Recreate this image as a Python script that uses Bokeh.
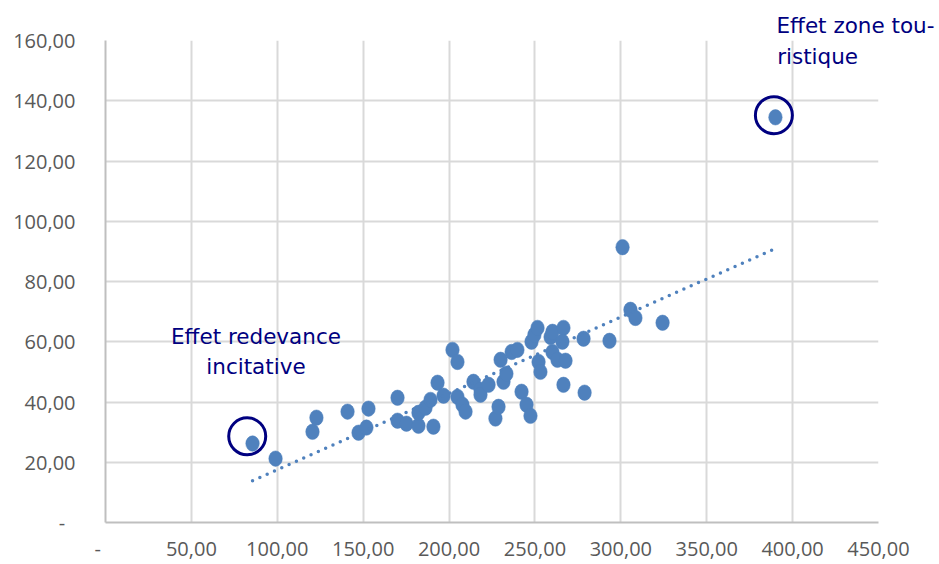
import numpy as np
from bokeh.plotting import figure
from bokeh.models import Range1d, FixedTicker, Label, Title
from bokeh.embed import file_html
from bokeh.resources import INLINE

# ---- data ----
x_values = [85.6, 99.0, 120.5, 122.8, 140.9, 147.3, 151.9, 153.1, 170.0, 170.0,
            175.2, 182.2, 182.2, 186.3, 189.2, 190.9, 193.3, 196.8, 202.0, 204.9,
            204.9, 207.8, 209.6, 214.2, 218.3, 218.3, 223.0, 227.0, 228.8, 230.0,
            231.7, 233.4, 236.4, 239.8, 242.2, 245.1, 247.4, 248.0, 249.7, 251.5,
            252.1, 253.2, 259.1, 260.2, 260.2, 263.1, 266.6, 266.0, 267.8, 266.6,
            278.3, 278.9, 293.4, 301.0, 305.6, 308.5, 324.3, 390.0]
y_values = [26.2, 21.2, 30.1, 34.8, 36.8, 29.8, 31.5, 37.8, 41.4, 33.8,
            32.8, 32.1, 36.4, 38.1, 40.7, 31.8, 46.4, 42.1, 57.3, 53.3,
            41.7, 39.1, 36.8, 46.7, 44.1, 42.4, 45.7, 34.5, 38.4, 54.0,
            46.7, 49.4, 56.6, 57.3, 43.4, 39.1, 35.4, 60.0, 62.3, 64.6,
            53.3, 50.0, 61.6, 63.3, 56.6, 54.0, 64.6, 60.0, 53.7, 45.7,
            61.0, 43.1, 60.3, 91.4, 70.6, 67.9, 66.3, 134.5]

x_ticks = [0, 50, 100, 150, 200, 250, 300, 350, 400, 450]
x_tick_labels = ["-\u00a0\u00a0\u00a0", "50,00", "100,00", "150,00", "200,00", "250,00",
                 "300,00", "350,00", "400,00", "450,00"]
y_ticks = [0, 20, 40, 60, 80, 100, 120, 140, 160]
y_tick_labels = ["-\u00a0\u00a0", "20,00", "40,00", "60,00", "80,00", "100,00",
                 "120,00", "140,00", "160,00"]

# highlighted points (annotation circles)
highlight_x = [82.5, 389.1]
highlight_y = [28.6, 135.2]

# linear trend (least squares, like the spreadsheet trendline)
slope, intercept = np.polyfit(np.array(x_values), np.array(y_values), 1)
trend_x = [min(x_values), max(x_values)]
trend_y = [slope * v + intercept for v in trend_x]

TICK_FONT = "Open Sans"
NOTE_FONT = "DejaVu Sans"
POINT_COLOR = "#4F81BD"
NAVY = "#000080"

p = figure(width=939, height=564, output_backend="svg", toolbar_location=None,
           x_range=Range1d(0, 450), y_range=Range1d(0, 160),
           min_border_left=105, min_border_right=61, min_border_top=40,
           min_border_bottom=41, outline_line_color=None,
           background_fill_color="white", border_fill_color="white")

for ax, ticks, labels in ((p.xaxis[0], x_ticks, x_tick_labels),
                          (p.yaxis[0], y_ticks, y_tick_labels)):
    ax.ticker = FixedTicker(ticks=ticks)
    ax.major_label_overrides = {t: l for t, l in zip(ticks, labels)}
    ax.major_label_text_font = TICK_FONT
    ax.major_label_text_font_size = "20px"
    ax.major_label_text_color = "#595959"
    ax.major_tick_line_color = None
    ax.minor_tick_line_color = None
    ax.axis_line_color = "#bfbfbf"
    ax.axis_line_width = 2

p.yaxis[0].major_label_standoff = 24
p.xaxis[0].major_label_standoff = 6

p.xgrid.ticker = FixedTicker(ticks=x_ticks)
p.ygrid.ticker = FixedTicker(ticks=y_ticks)
for g in (p.xgrid, p.ygrid):
    g.grid_line_color = "#d9d9d9"
    g.grid_line_width = 2

p.ellipse(x=x_values, y=y_values, width=13.5, height=15.5,
          width_units="screen", height_units="screen",
          fill_color=POINT_COLOR, line_color=POINT_COLOR, line_width=0.5)

p.line(x=trend_x, y=trend_y, line_color=POINT_COLOR, line_width=3.5,
       line_dash="0 8", line_cap="round")

p.scatter(x=highlight_x, y=highlight_y, marker="circle", size=37,
          fill_color=None, line_color=NAVY, line_width=3)

note_style = dict(text_font=NOTE_FONT, text_font_size="21.5px", text_color=NAVY,
                  text_font_style="normal")
p.add_layout(Label(x=87.6, y=61.9, text="Effet redevance", text_align="center",
                   text_baseline="alphabetic", **note_style))
p.add_layout(Label(x=87.6, y=51.8, text="incitative", text_align="center",
                   text_baseline="alphabetic", **note_style))
# first line of the top-right note sits above the plot frame -> title panel
p.add_layout(Title(text="Effet zone tou-", align="left", offset=671, standoff=6,
                   vertical_align="bottom", **note_style), "above")
p.add_layout(Label(x=391.0, y=154.6, text="ristique", text_align="left",
                   text_baseline="alphabetic", **note_style))

open("out.html", "w").write(file_html(p, INLINE))
